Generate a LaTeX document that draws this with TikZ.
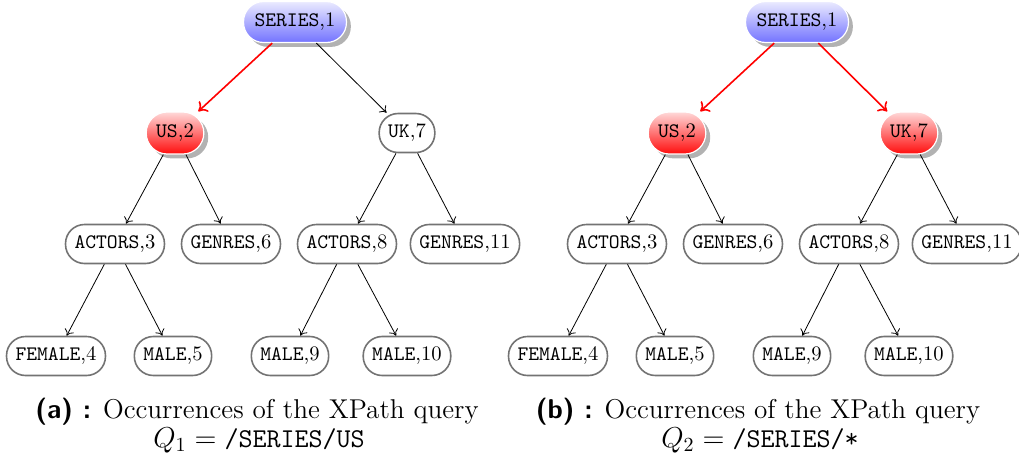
\documentclass[tikz,border=0pt]{standalone}
\usetikzlibrary{shadows,arrows.meta}
\begin{document}
\begin{tikzpicture}[x=0.5pt,y=-0.5pt,
  tn/.style={draw=black!55, line width=0.8pt, rectangle, rounded corners=9.5pt,
    minimum height=19.5pt, inner xsep=4.5pt, inner ysep=2pt, font=\fontsize{10.3}{12}\selectfont},
  bluen/.style={rectangle, rounded corners=10pt, draw=white, line width=0.6pt,
    minimum height=20.5pt, inner xsep=5.5pt, inner ysep=2pt, top color=blue!8, bottom color=blue!55,
    drop shadow={shadow xshift=2.2pt, shadow yshift=-2.2pt, fill=black!30, opacity=1},
    font=\fontsize{10.3}{12}\selectfont},
  redn/.style={rectangle, rounded corners=10.5pt, draw=white, line width=0.6pt,
    minimum height=21pt, inner xsep=5pt, inner ysep=2pt, top color=red!15, bottom color=red!95,
    drop shadow={shadow xshift=2.2pt, shadow yshift=-2.2pt, fill=black!30, opacity=1},
    font=\fontsize{10.3}{12}\selectfont},
  e/.style={-{To[length=3pt,width=5pt]}, line width=0.4pt, black},
  re/.style={-{To[length=4pt,width=7pt]}, line width=0.8pt, red},
  captxt/.style={font=\fontsize{13.6}{16}\selectfont, inner sep=0pt}
]
\useasboundingbox (0,0) rectangle (1019,461);

% ---------- tree (a) ----------
\node[bluen] (a1) at (295,22) {\texttt{SERIES},1};
\node[redn]  (a2) at (175,133) {\texttt{US},2};
\node[tn]    (a7) at (407,133) {\texttt{UK},7};
\node[tn]    (a3) at (115,244) {\texttt{ACTORS},3};
\node[tn]    (a6) at (231,244) {\texttt{GENRES},6};
\node[tn]    (a8) at (347,244) {\texttt{ACTORS},8};
\node[tn]    (a11) at (465,244) {\texttt{GENRES},11};
\node[tn]    (a4) at (56,356) {\texttt{FEMALE},4};
\node[tn]    (a5) at (173,356) {\texttt{MALE},5};
\node[tn]    (a9) at (290,356) {\texttt{MALE},9};
\node[tn]    (a10) at (407,356) {\texttt{MALE},10};

\draw[re] (a1) -- (a2);
\draw[e] (a1) -- (a7);
\draw[e] (a2) -- (a3);
\draw[e] (a2) -- (a6);
\draw[e] (a7) -- (a8);
\draw[e] (a7) -- (a11);
\draw[e] (a3) -- (a4);
\draw[e] (a3) -- (a5);
\draw[e] (a8) -- (a9);
\draw[e] (a8) -- (a10);

% ---------- tree (b) ----------
\node[bluen] (b1) at (797,22) {\texttt{SERIES},1};
\node[redn]  (b2) at (677,133) {\texttt{US},2};
\node[redn]  (b7) at (909,133) {\texttt{UK},7};
\node[tn]    (b3) at (617,244) {\texttt{ACTORS},3};
\node[tn]    (b6) at (733,244) {\texttt{GENRES},6};
\node[tn]    (b8) at (849,244) {\texttt{ACTORS},8};
\node[tn]    (b11) at (967,244) {\texttt{GENRES},11};
\node[tn]    (b4) at (558,356) {\texttt{FEMALE},4};
\node[tn]    (b5) at (675,356) {\texttt{MALE},5};
\node[tn]    (b9) at (792,356) {\texttt{MALE},9};
\node[tn]    (b10) at (909,356) {\texttt{MALE},10};

\draw[re] (b1) -- (b2);
\draw[re] (b1) -- (b7);
\draw[e] (b2) -- (b3);
\draw[e] (b2) -- (b6);
\draw[e] (b7) -- (b8);
\draw[e] (b7) -- (b11);
\draw[e] (b3) -- (b4);
\draw[e] (b3) -- (b5);
\draw[e] (b8) -- (b9);
\draw[e] (b8) -- (b10);

% ---------- captions ----------
\node[captxt] (ca1) at (257,412) {\textsf{\textbf{(a) :}} Occurrences of the XPath query};
\node[captxt] (ca2) at (259,440) {$Q_1 = \texttt{/SERIES/US}$};
\node[captxt] (cb1) at (758,412) {\textsf{\textbf{(b) :}} Occurrences of the XPath query};
\node[captxt] (cb2) at (760,440) {$Q_2 = \texttt{/SERIES/*}$};
\end{tikzpicture}
\end{document}
